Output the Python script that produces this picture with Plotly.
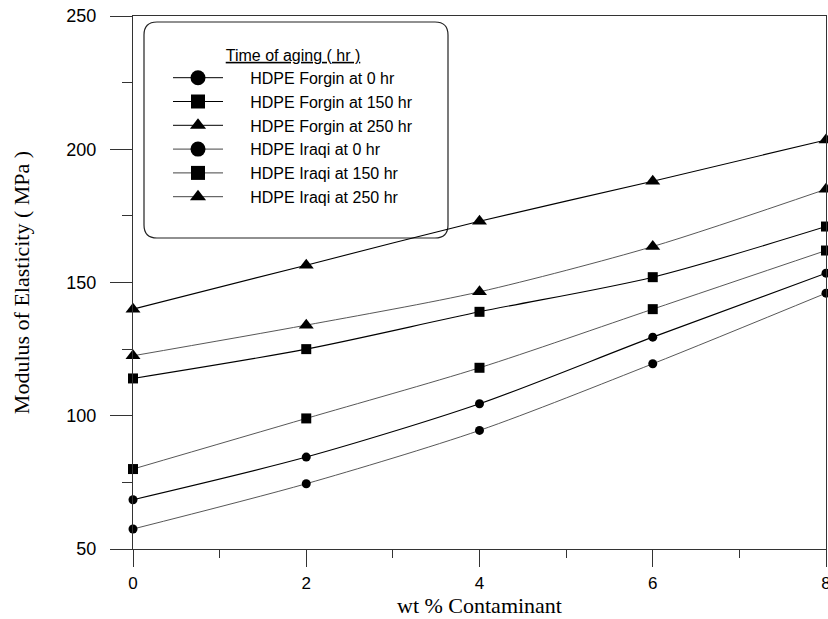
import plotly.graph_objects as go

# ---- data ----
wt_pct = [0, 2, 4, 6, 8]
forgin_0 = [68.5, 84.5, 104.5, 129.5, 153.5]
forgin_150 = [114, 125, 139, 152, 171]
forgin_250 = [140, 156.5, 173, 188, 203.5]
iraqi_0 = [57.5, 74.5, 94.5, 119.5, 146]
iraqi_150 = [80, 99, 118, 140, 162]
iraqi_250 = [122.5, 134, 146.5, 163.5, 185]

series_names = [
    "HDPE Forgin at 0 hr", "HDPE Forgin at 150 hr", "HDPE Forgin at 250 hr",
    "HDPE Iraqi at 0 hr", "HDPE Iraqi at 150 hr", "HDPE Iraqi at 250 hr",
]
series_values = [forgin_0, forgin_150, forgin_250, iraqi_0, iraqi_150, iraqi_250]
x_ticks = [0, 2, 4, 6, 8]
y_ticks = [50, 100, 150, 200, 250]

symbols = ["circle", "square", "triangle-up"] * 2
plot_sizes = {"circle": 9, "square": 10, "triangle-up": 13}
legend_sizes = {"circle": 15, "square": 14, "triangle-up": 14}
line_colors = ["#000000"] * 3 + ["#444444"] * 3
line_widths = [1.1] * 3 + [0.9] * 3

W, H = 828, 619
L, R, T, B = 133, 2, 16, 70
pw, ph = W - L - R, H - T - B

fig = go.Figure()
for name, vals, sym, lc, lw in zip(series_names, series_values, symbols, line_colors, line_widths):
    fig.add_trace(go.Scatter(
        x=wt_pct, y=vals, mode="lines+markers", name=name, showlegend=False,
        line=dict(color=lc, width=lw, shape="spline", smoothing=0.8),
        marker=dict(symbol=sym, size=plot_sizes[sym], color="black", line=dict(width=0)),
        cliponaxis=False,
    ))
# legend entries (larger symbols as in the reference legend)
gap = "\u00a0" * 5
for name, sym, lc in zip(series_names, symbols, line_colors):
    fig.add_trace(go.Scatter(
        x=[None], y=[None], mode="lines+markers", name=gap + name,
        line=dict(color=lc, width=1),
        marker=dict(symbol=sym, size=legend_sizes[sym], color="black", line=dict(width=0)),
    ))

# rounded legend frame (pixel -> paper)
def px(xp):
    return (xp - L) / pw

def py(yp):
    return 1 - (yp - T) / ph

x0, x1, y0, y1, r = 144, 448, 22, 238, 13
path = (
    f"M {px(x0 + r)},{py(y0)} L {px(x1 - r)},{py(y0)} "
    f"Q {px(x1)},{py(y0)} {px(x1)},{py(y0 + r)} "
    f"L {px(x1)},{py(y1 - r)} Q {px(x1)},{py(y1)} {px(x1 - r)},{py(y1)} "
    f"L {px(x0 + r)},{py(y1)} Q {px(x0)},{py(y1)} {px(x0)},{py(y1 - r)} "
    f"L {px(x0)},{py(y0 + r)} Q {px(x0)},{py(y0)} {px(x0 + r)},{py(y0)} Z"
)
fig.add_shape(type="path", path=path, xref="paper", yref="paper",
              line=dict(color="#222222", width=1.2), fillcolor="rgba(0,0,0,0)", layer="below")

axis_color = "#333333"
tick_font = dict(family="Arial, Liberation Sans, sans-serif", size=18, color="black")
xtick_font = dict(family="Arial, Liberation Sans, sans-serif", size=17, color="black")
title_font = dict(family="Times New Roman, Liberation Serif, serif", color="black")

fig.update_layout(
    width=W, height=H, autosize=False,
    margin=dict(l=L, r=R, t=T, b=B, pad=0),
    paper_bgcolor="white", plot_bgcolor="white",
    xaxis=dict(
        range=[0, 8], tickvals=x_ticks, ticktext=[str(v) for v in x_ticks],
        showgrid=False, zeroline=False, showline=True, mirror=True,
        linecolor=axis_color, linewidth=1.3,
        ticks="outside", ticklen=17, tickwidth=1.3, tickcolor=axis_color,
        minor=dict(dtick=1, ticks="outside", ticklen=8, tickwidth=1.3, tickcolor=axis_color, showgrid=False),
        tickfont=xtick_font, ticklabelstandoff=1, ticklabeloverflow="allow",
        title=dict(text="wt % Contaminant", font=dict(size=22, **title_font), standoff=5),
        automargin=False,
    ),
    yaxis=dict(
        range=[50, 250], tickvals=y_ticks, ticktext=[str(v) for v in y_ticks],
        showgrid=False, zeroline=False, showline=True, mirror=True,
        linecolor=axis_color, linewidth=1.3,
        ticks="outside", ticklen=22, tickwidth=1.3, tickcolor=axis_color,
        minor=dict(dtick=25, ticks="outside", ticklen=10, tickwidth=1.3, tickcolor=axis_color, showgrid=False),
        tickfont=tick_font, ticklabelstandoff=10,
        title=dict(text="Modulus of Elasticity ( MPa )", font=dict(size=22, **title_font), standoff=30),
        automargin=False,
    ),
    legend=dict(
        x=px(168), y=py(40), xanchor="left", yanchor="top",
        bgcolor="rgba(0,0,0,0)", borderwidth=0,
        font=dict(family="Arial, Liberation Sans, sans-serif", size=16, color="black"),
        title=dict(text="<u>Time of aging ( hr )</u>", side="top center",
                   font=dict(family="Arial, Liberation Sans, sans-serif", size=16, color="black")),
        itemwidth=50, tracegroupgap=0,
    ),
)

fig.write_html("out.html")
